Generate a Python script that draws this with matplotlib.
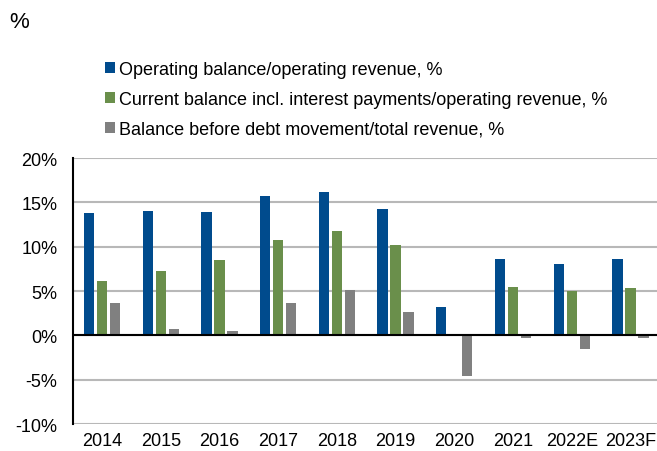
import matplotlib
matplotlib.use("Agg")
import matplotlib.pyplot as plt
import numpy as np

plt.rcParams['font.family'] = ['Liberation Sans', 'DejaVu Sans']

years = ['2014', '2015', '2016', '2017', '2018', '2019', '2020', '2021', '2022E', '2023F']
operating = [13.8, 14.0, 13.9, 15.7, 16.2, 14.2, 3.2, 8.6, 8.1, 8.6]
current = [6.1, 7.3, 8.5, 10.7, 11.8, 10.2, 0.0, 5.5, 5.0, 5.3]
before_debt = [3.6, 0.7, 0.45, 3.6, 5.1, 2.6, -4.6, -0.35, -1.5, -0.3]

labels = ['Operating balance/operating revenue, %',
          'Current balance incl. interest payments/operating revenue, %',
          'Balance before debt movement/total revenue, %']
colors = ['#004b8d', '#6a8f4b', '#808080']

fig = plt.figure(figsize=(6.57, 4.52), dpi=100)
ax = fig.add_axes([0.1107, 0.0597, 0.8935, 0.5885])

x = np.arange(len(years))
w = 0.175
off = 0.221
bars = []
for i, (vals, col, lab) in enumerate(zip([operating, current, before_debt], colors, labels)):
    b = ax.bar(x + (i - 1) * off, vals, w, color=col, label=lab, zorder=3)
    bars.append(b)

ax.set_xlim(-0.5, 9.5)
ax.set_ylim(-10, 20)
ax.set_yticks(np.arange(-10, 21, 5))
ax.set_yticklabels([str(v) + '%' for v in range(-10, 21, 5)])
ax.set_xticks(x)
ax.set_xticklabels(years)
ax.tick_params(length=0, labelsize=13)
ax.tick_params(axis='y', pad=11)
ax.tick_params(axis='x', pad=6)
ax.yaxis.grid(True, color='#b8b8b8', linewidth=1.5, zorder=0)
ax.axhline(0, color='black', linewidth=1.5, zorder=4)
for s in ['top', 'right', 'bottom']:
    ax.spines[s].set_visible(False)
ax.spines['left'].set_linewidth(1.5)

fig.text(0.014, 0.95, '%', fontsize=16, va='center', ha='left')

fig.legend(handles=bars, labels=labels, loc='upper left', bbox_to_anchor=(0.149, 0.879),
           frameon=False, fontsize=13, handlelength=0.55, handleheight=0.55,
           handletextpad=0.2, labelspacing=0.72, borderaxespad=0)

fig.savefig('out.png', dpi=100)
